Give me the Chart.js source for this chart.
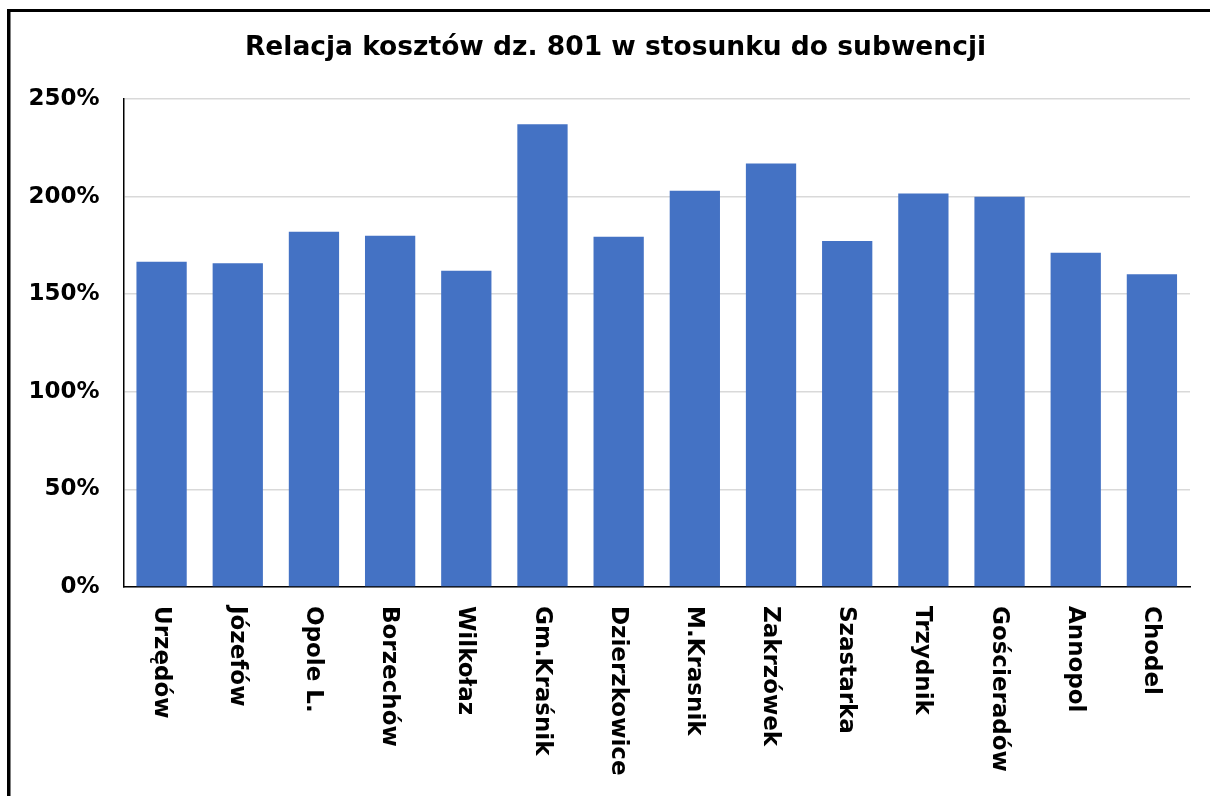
<!DOCTYPE html>
<html lang="pl">
<head>
<meta charset="utf-8">
<title>Relacja kosztów dz. 801 w stosunku do subwencji</title>
<script src="https://cdn.jsdelivr.net/npm/chart.js@4/dist/chart.umd.min.js"></script>
<style>
  html, body { margin: 0; padding: 0; background: #fff; overflow: hidden; }
  #wrap { position: relative; width: 1210px; height: 796px; }
  canvas { display: block; }
</style>
</head>
<body>
<div id="wrap"><canvas id="chart" width="1210" height="796"></canvas></div>
<script>
// Gminy (categories along the x axis)
const gminy = [
  'Urzędów', 'Józefów', 'Opole L.', 'Borzechów', 'Wilkołaz', 'Gm.Kraśnik',
  'Dzierzkowice', 'M.Krasnik', 'Zakrzówek', 'Szastarka', 'Trzydnik',
  'Gościeradów', 'Annopol', 'Chodel'
];

// Costs of section 801 as a percentage of the education subsidy
const relacja = [
  166.6, 165.8, 182.0, 179.9, 162.0, 237.1,
  179.4, 203.0, 217.0, 177.2, 201.6,
  199.9, 171.2, 160.2
];

// Y axis ticks (percent)
const yTicks = [0, 50, 100, 150, 200, 250];

const tytul = 'Relacja kosztów dz. 801 w stosunku do subwencji';
const FONT = '"DejaVu Sans", Verdana, sans-serif';

// Frame, title and top-to-bottom category labels
const decor = {
  id: 'decor',
  beforeDraw(chart) {
    const ctx = chart.ctx;
    ctx.save();
    ctx.fillStyle = '#fff';
    ctx.fillRect(0, 0, chart.width, chart.height);
    ctx.fillStyle = '#000';
    ctx.fillRect(7, 9, chart.width - 7, 3);
    ctx.fillRect(7, 9, 3.5, chart.height - 9);
    ctx.restore();
  },
  afterDraw(chart) {
    const ctx = chart.ctx;
    const xs = chart.scales.x;
    ctx.save();
    ctx.fillStyle = '#000';
    ctx.font = 'bold 26.5px ' + FONT;
    ctx.textAlign = 'center';
    ctx.textBaseline = 'middle';
    ctx.fillText(tytul, 615.5, 48);

    ctx.font = 'bold 23px ' + FONT;
    ctx.textAlign = 'left';
    ctx.textBaseline = 'middle';
    gminy.forEach((g, i) => {
      const x = xs.getPixelForValue(i);
      ctx.save();
      ctx.translate(x - 1, xs.top + 19);
      ctx.rotate(Math.PI / 2);
      ctx.fillText(g, 0, 0);
      ctx.restore();
    });
    ctx.restore();
  }
};

new Chart(document.getElementById('chart'), {
  type: 'bar',
  data: {
    labels: gminy,
    datasets: [{
      data: relacja,
      backgroundColor: '#4472C4',
      borderWidth: 0,
      barPercentage: 0.66,
      categoryPercentage: 1.0
    }]
  },
  options: {
    responsive: false,
    animation: false,
    devicePixelRatio: 1,
    layout: { padding: { top: 99, right: 20, left: 0, bottom: 0 } },
    plugins: {
      legend: { display: false },
      title: { display: false },
      tooltip: { enabled: false }
    },
    scales: {
      x: {
        grid: { display: false, drawTicks: false },
        border: { color: '#000', width: 1.5 },
        ticks: { display: false },
        afterFit(scale) { scale.height = 209; }
      },
      y: {
        min: yTicks[0],
        max: yTicks[yTicks.length - 1],
        afterBuildTicks(scale) { scale.ticks = yTicks.map(v => ({ value: v })); },
        grid: { color: '#d9d9d9', lineWidth: 1.5, drawTicks: false },
        border: { color: '#000', width: 1.5 },
        ticks: {
          color: '#000',
          padding: 24,
          font: { family: FONT, size: 23, weight: 'bold' },
          callback: v => v + '%'
        },
        afterFit(scale) { scale.width = 123.5; }
      }
    }
  },
  plugins: [decor]
});
</script>
</body>
</html>
